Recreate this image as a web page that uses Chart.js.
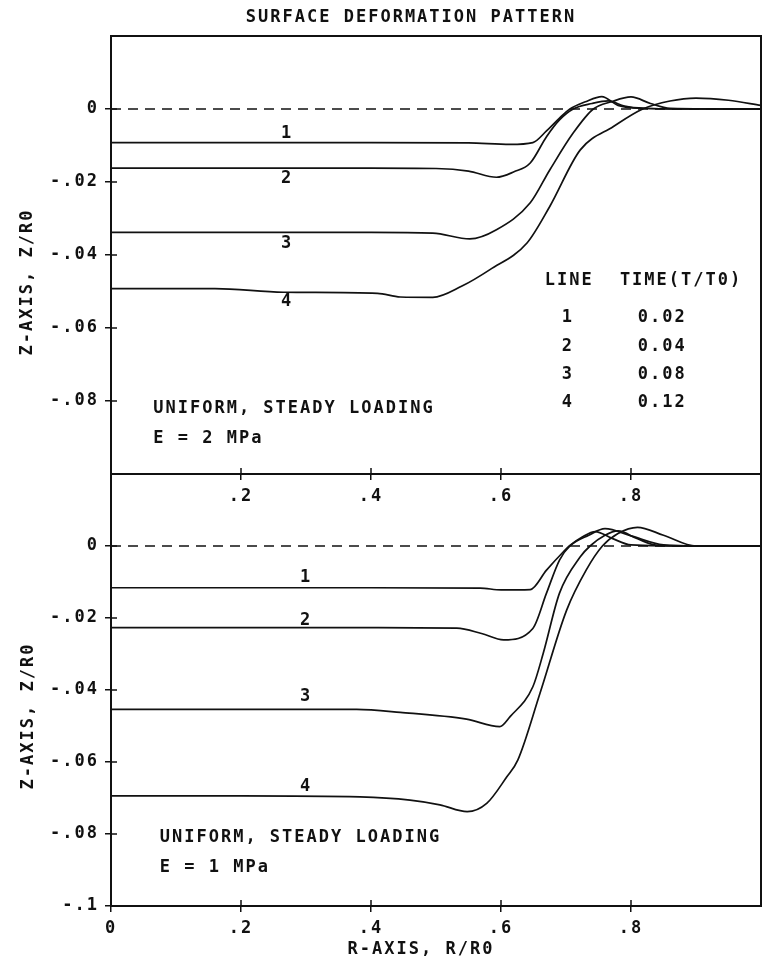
<!DOCTYPE html>
<html>
<head>
<meta charset="utf-8">
<title>Surface deformation pattern</title>
<script src="https://cdn.jsdelivr.net/npm/chart.js@4.4.1/dist/chart.umd.min.js"></script>
<style>
  html, body { margin: 0; padding: 0; background: #fff; }
  #wrap { position: relative; width: 763px; height: 960px; overflow: hidden; }
  #wrap canvas { position: absolute; left: 0; }
  #topChart { top: 0; }
  #botChart { top: 440px; }
</style>
</head>
<body>
<div id="wrap">
  <canvas id="topChart" width="763" height="520"></canvas>
  <canvas id="botChart" width="763" height="520"></canvas>
</div>
<script>
// ---- data (R/R0 -> Z/R0) ----

// upper panel, E = 2 MPa
const rTop1 = [0, 0.2, 0.4, 0.55, 0.614, 0.649, 0.67, 0.69, 0.706, 0.73, 0.755, 0.78, 0.82, 0.9, 1.0];
const zTop1 = [-0.0092, -0.0092, -0.0092, -0.0093, -0.0097, -0.0092, -0.0060, -0.0025, 0.0, 0.0020, 0.0034, 0.0010, 0.0002, 0.0, 0.0];
const rTop2 = [0, 0.2, 0.4, 0.5, 0.55, 0.593, 0.62, 0.645, 0.67, 0.69, 0.711, 0.74, 0.765, 0.79, 0.82, 0.9, 1.0];
const zTop2 = [-0.0162, -0.0162, -0.0162, -0.0163, -0.0170, -0.0187, -0.0172, -0.0148, -0.0076, -0.0030, 0.0, 0.0015, 0.0022, 0.0008, 0.0002, 0.0, 0.0];
const rTop3 = [0, 0.2, 0.4, 0.495, 0.552, 0.593, 0.645, 0.675, 0.711, 0.742, 0.77, 0.80, 0.83, 0.86, 1.0];
const zTop3 = [-0.0338, -0.0338, -0.0338, -0.0340, -0.0356, -0.0331, -0.0257, -0.0167, -0.0066, 0.0, 0.0020, 0.0033, 0.0015, 0.0002, 0.0];
const rTop4 = [0, 0.16, 0.265, 0.41, 0.445, 0.495, 0.54, 0.583, 0.64, 0.675, 0.722, 0.773, 0.818, 0.86, 0.90, 0.95, 1.0];
const zTop4 = [-0.0492, -0.0492, -0.0502, -0.0505, -0.0515, -0.0516, -0.0485, -0.0440, -0.0367, -0.0267, -0.0112, -0.0048, 0.0, 0.0022, 0.0030, 0.0024, 0.0010];

// lower panel, E = 1 MPa
const rBot1 = [0, 0.2, 0.4, 0.568, 0.60, 0.645, 0.67, 0.696, 0.705, 0.725, 0.745, 0.77, 0.80, 0.9, 1.0];
const zBot1 = [-0.0116, -0.0116, -0.0116, -0.0117, -0.0122, -0.0121, -0.0067, -0.0016, 0.0, 0.0025, 0.0040, 0.0022, 0.0003, 0.0, 0.0];
const rBot2 = [0, 0.2, 0.4, 0.532, 0.57, 0.604, 0.649, 0.67, 0.69, 0.706, 0.735, 0.76, 0.80, 0.85, 0.9, 1.0];
const zBot2 = [-0.0227, -0.0227, -0.0227, -0.0228, -0.0243, -0.0261, -0.0229, -0.0131, -0.0039, 0.0, 0.0030, 0.0048, 0.0028, 0.0003, 0.0, 0.0];
const rBot3 = [0, 0.2, 0.378, 0.445, 0.547, 0.598, 0.614, 0.649, 0.665, 0.69, 0.722, 0.737, 0.76, 0.78, 0.81, 0.84, 1.0];
const zBot3 = [-0.0454, -0.0454, -0.0454, -0.0462, -0.0481, -0.0502, -0.0474, -0.0391, -0.0298, -0.0131, -0.0030, 0.0, 0.0030, 0.0042, 0.0020, 0.0002, 0.0];
const rBot4 = [0, 0.2, 0.383, 0.46, 0.506, 0.548, 0.578, 0.609, 0.626, 0.66, 0.701, 0.731, 0.756, 0.78, 0.81, 0.85, 0.90, 1.0];
const zBot4 = [-0.0694, -0.0694, -0.0697, -0.0706, -0.0719, -0.0738, -0.0715, -0.0641, -0.0594, -0.0409, -0.0178, -0.0067, 0.0, 0.0035, 0.0052, 0.0030, 0.0, 0.0];

// undeformed surface (dashed)
const zeroR = [0, 1];
const zeroZ = [0, 0];

// ticks
const xTicksMid = [0.2, 0.4, 0.6, 0.8];
const xTicksBot = [0, 0.2, 0.4, 0.6, 0.8];
const yTicksTop = [0, -0.02, -0.04, -0.06, -0.08];
const yTicksBot = [0, -0.02, -0.04, -0.06, -0.08, -0.1];

// legend table
const lineIds = ['1', '2', '3', '4'];
const lineTimes = ['0.02', '0.04', '0.08', '0.12'];

const FONT = "'DejaVu Sans Mono', 'Liberation Mono', monospace";
const INK = '#111';

function series(r, z) {
  return r.map((v, i) => ({ x: v, y: z[i] }));
}

function fmt(v) {
  return v === 0 ? '0' : String(v).replace('0.', '.');
}

function curve(r, z) {
  return {
    data: series(r, z),
    borderColor: INK,
    borderWidth: 1.7,
    pointRadius: 0,
    cubicInterpolationMode: 'monotone',
    fill: false
  };
}

function zeroLine() {
  return {
    data: series(zeroR, zeroZ),
    borderColor: INK,
    borderWidth: 1.6,
    borderDash: [10, 7],
    pointRadius: 0,
    fill: false
  };
}

// box around the plot area + inward half of the tick crosses
const framePlugin = {
  id: 'frame',
  afterDatasetsDraw(chart) {
    const { ctx, chartArea: a } = chart;
    ctx.save();
    ctx.strokeStyle = INK;
    ctx.lineWidth = 2;
    ctx.strokeRect(a.left, a.top, a.right - a.left, a.bottom - a.top);
    ctx.lineWidth = 1.5;
    ctx.beginPath();
    chart.scales.x.ticks.forEach(t => {
      const px = chart.scales.x.getPixelForValue(t.value);
      ctx.moveTo(px, a.bottom);
      ctx.lineTo(px, a.bottom - 6);
    });
    chart.scales.y.ticks.forEach(t => {
      const py = chart.scales.y.getPixelForValue(t.value);
      ctx.moveTo(a.left, py);
      ctx.lineTo(a.left + 6, py);
    });
    ctx.stroke();
    ctx.restore();
  }
};

// plotter-style lettering
const spacingPlugin = {
  id: 'spacing',
  beforeDraw(chart) {
    chart.ctx.letterSpacing = '2px';
  }
};

const notesPlugin = {
  id: 'notes',
  afterDraw(chart, args, opts) {
    const ctx = chart.ctx;
    const xs = chart.scales.x, ys = chart.scales.y;
    ctx.save();
    ctx.fillStyle = INK;
    ctx.font = 'bold 17px ' + FONT;
    ctx.letterSpacing = '2px';
    ctx.textBaseline = 'middle';
    (opts.inPlot || []).forEach(n => {
      ctx.textAlign = n.align || 'center';
      ctx.fillText(n.text, xs.getPixelForValue(n.r), ys.getPixelForValue(n.z));
    });
    (opts.onCanvas || []).forEach(n => {
      ctx.save();
      ctx.translate(n.px, n.py);
      ctx.rotate(n.rot || 0);
      ctx.textAlign = 'center';
      ctx.fillText(n.text, 0, 0);
      ctx.restore();
    });
    ctx.restore();
  }
};

function axisOpts(ticks, fixedSize, horizontal, min, max) {
  return {
    type: 'linear',
    min: min,
    max: max,
    afterBuildTicks: s => { s.ticks = ticks.map(v => ({ value: v })); },
    afterFit: s => { if (horizontal) s.height = fixedSize; else s.width = fixedSize; },
    grid: { drawOnChartArea: false, drawTicks: true, tickLength: 6, color: INK, lineWidth: 1.5 },
    border: { display: true, color: INK, width: 2 },
    ticks: {
      autoSkip: false,
      maxRotation: 0,
      padding: 6,
      color: INK,
      font: { family: FONT, size: 17, weight: 'bold' },
      callback: v => fmt(v)
    }
  };
}

function baseOptions(padTop, xTicks, xHeight, yTicks, notes) {
  return {
    responsive: false,
    animation: false,
    layout: { padding: { top: padTop, right: 2, left: 0, bottom: 0 } },
    scales: {
      x: axisOpts(xTicks, xHeight, true, 0, 1),
      y: axisOpts(yTicks, 111, false, -0.1, 0.02)
    },
    plugins: {
      legend: { display: false },
      tooltip: { enabled: false },
      notes: notes
    }
  };
}

const tableRows = [];
lineIds.forEach((id, i) => {
  const z = [-0.0571, -0.0650, -0.0727, -0.0803][i];
  tableRows.push({ text: id, r: 0.703, z: z });
  tableRows.push({ text: lineTimes[i], r: 0.848, z: z });
});

new Chart(document.getElementById('topChart'), {
  type: 'line',
  data: {
    datasets: [zeroLine(), curve(rTop1, zTop1), curve(rTop2, zTop2), curve(rTop3, zTop3), curve(rTop4, zTop4)]
  },
  options: baseOptions(36, xTicksMid, 46, yTicksTop, {
    inPlot: [
      { text: '1', r: 0.271, z: -0.0066 },
      { text: '2', r: 0.271, z: -0.0191 },
      { text: '3', r: 0.271, z: -0.0369 },
      { text: '4', r: 0.271, z: -0.0527 },
      { text: 'LINE', r: 0.705, z: -0.0470 },
      { text: 'TIME(T/T0)', r: 0.877, z: -0.0470 },
      ...tableRows,
      { text: 'UNIFORM, STEADY LOADING', r: 0.065, z: -0.0822, align: 'left' },
      { text: 'E = 2 MPa', r: 0.065, z: -0.0902, align: 'left' }
    ],
    onCanvas: [
      { text: 'SURFACE DEFORMATION PATTERN', px: 411, py: 18 },
      { text: 'Z-AXIS, Z/R0', px: 28, py: 282, rot: -Math.PI / 2 }
    ]
  }),
  plugins: [spacingPlugin, framePlugin, notesPlugin]
});

new Chart(document.getElementById('botChart'), {
  type: 'line',
  data: {
    datasets: [zeroLine(), curve(rBot1, zBot1), curve(rBot2, zBot2), curve(rBot3, zBot3), curve(rBot4, zBot4)]
  },
  options: baseOptions(34, xTicksBot, 54, yTicksBot, {
    inPlot: [
      { text: '1', r: 0.30, z: -0.0089 },
      { text: '2', r: 0.30, z: -0.0208 },
      { text: '3', r: 0.30, z: -0.0419 },
      { text: '4', r: 0.30, z: -0.0669 },
      { text: 'UNIFORM, STEADY LOADING', r: 0.075, z: -0.0811, align: 'left' },
      { text: 'E = 1 MPa', r: 0.075, z: -0.0894, align: 'left' }
    ],
    onCanvas: [
      { text: 'Z-AXIS, Z/R0', px: 29, py: 276, rot: -Math.PI / 2 },
      { text: 'R-AXIS, R/R0', px: 421, py: 510 }
    ]
  }),
  plugins: [spacingPlugin, framePlugin, notesPlugin]
});
</script>
</body>
</html>
